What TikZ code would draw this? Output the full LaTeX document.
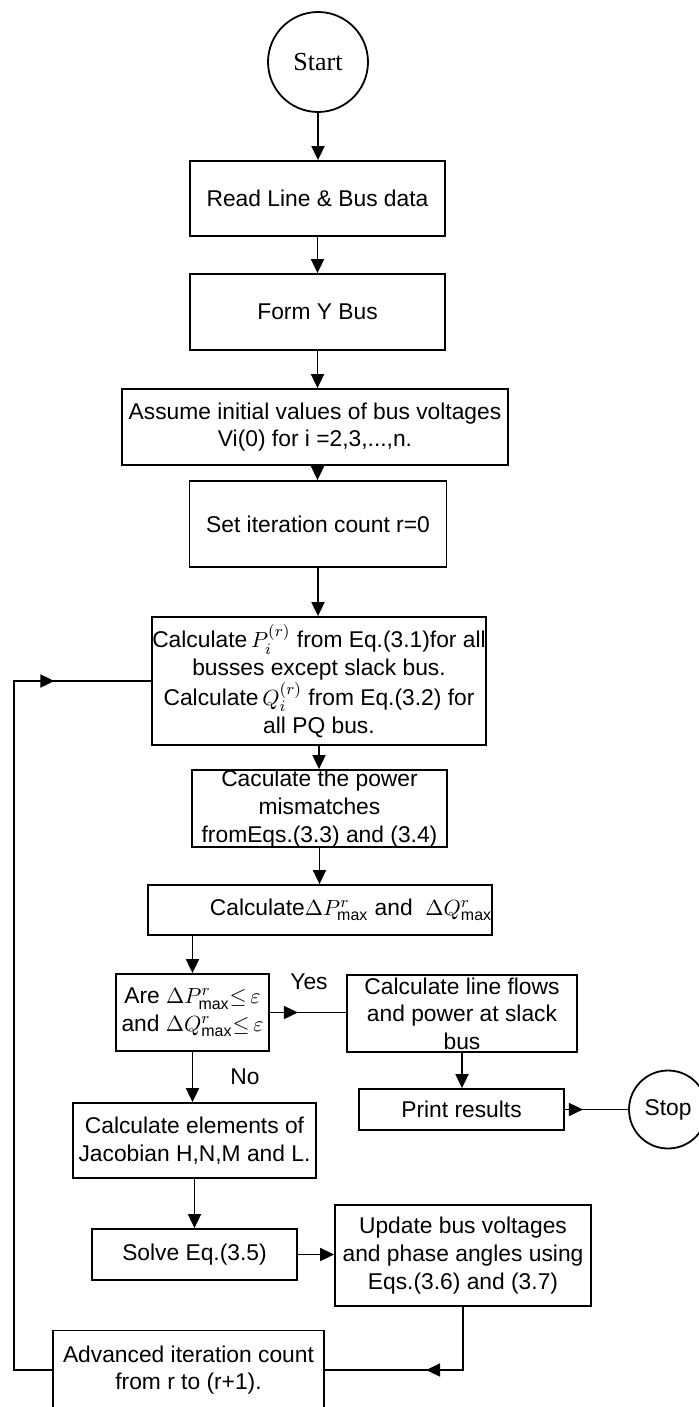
\documentclass[tikz,border=0pt]{standalone}
\usepackage{fontspec}
\setmainfont{Liberation Sans}
\newfontfamily\startfont{Liberation Serif}
\usepackage{tikz}
\usetikzlibrary{arrows.meta}
\usetikzlibrary{decorations.markings}

\newcommand{\boxfont}{\fontsize{11.4}{13.8}\selectfont}

\tikzset{
  box/.style={draw, line width=0.9pt, rectangle, inner sep=0pt, align=center, font=\boxfont},
  term/.style={draw, line width=0.9pt, circle, inner sep=0pt},
  flow/.style={line width=0.9pt, -{Triangle[length=7pt,width=6.5pt]}},
  link/.style={line width=0.9pt},
  midarrow/.style={postaction={decorate, decoration={markings,
      mark=at position #1 with {\arrow{Triangle[length=7pt,width=6.5pt]}}}}},
  tag/.style={font=\boxfont}
}

\begin{document}
\begin{tikzpicture}[x=0.5pt,y=-0.5pt]
                \useasboundingbox (0,0) rectangle (699,1407);
                % main column
                \node[term, minimum size=50pt] (start) at (318,62) {\startfont\fontsize{13}{15}\selectfont Start};
                \node[box, minimum width=127.5pt, minimum height=37.5pt] (read) at (317.5,198.5) {Read Line \& Bus data};
                \node[box, minimum width=127.5pt, minimum height=38pt] (ybus) at (317.5,312) {Form Y Bus};
                \node[box, minimum width=193pt, minimum height=38pt] (assume) at (315,427) {Assume initial values of bus voltages\\ Vi(0) for i =2,3,...,n.};
                \node[box, minimum width=128.5pt, minimum height=43pt] (setcount) at (318,524) {Set iteration count r=0};
                \node[box, minimum width=166pt, minimum height=64pt] (calcpq) at (319,681) {Calculate\,$P_i^{(r)}$ from Eq.(3.1)for all\\ busses except slack bus.\\ Calculate\,$Q_i^{(r)}$ from Eq.(3.2) for\\ all PQ bus.};
                \node[box, minimum width=127.5pt, minimum height=38.5pt] (mismatch) at (319.5,808.5) {Caculate the power\\ mismatches\\ fromEqs.(3.3) and (3.4)};
                \node[box, minimum width=171pt, minimum height=25pt] (dmax) at (320,910) {\hspace*{31pt}Calculate$\Delta P^r_{\mathrm{max}}$ and\ \ $\Delta Q^r_{\mathrm{max}}$};
                % test and its two branches
                \node[box, minimum width=76.5pt, minimum height=38.5pt] (test) at (192.5,1012.5) {Are\ $\Delta P^r_{\mathrm{max}}{\le}\,\varepsilon$\\ and $\Delta Q^r_{\mathrm{max}}{\le}\,\varepsilon$};
                \node[box, minimum width=115pt, minimum height=38.5pt] (flows) at (462,1013.5) {Calculate line flows\\ and power at slack\\ bus};
                \node[box, minimum width=102.5pt, minimum height=20.5pt] (print) at (461.5,1109.5) {Print results};
                \node[term, minimum size=39pt, font=\boxfont] (stop) at (668,1109.5) {Stop};
                \node[box, minimum width=121.5pt, minimum height=37.5pt] (jacobian) at (194.5,1140.5) {Calculate elements of\\ Jacobian H,N,M and L.};
                \node[box, minimum width=102.5pt, minimum height=25.5pt] (solve) at (194.5,1254.5) {Solve Eq.(3.5)};
                \node[box, minimum width=128pt, minimum height=50.5pt] (update) at (463,1255.5) {Update bus voltages\\ and phase angles using\\ Eqs.(3.6) and (3.7)};
                \node[box, minimum width=135.5pt, minimum height=39.5pt] (advance) at (188.5,1370) {Advanced iteration count\\ from r to (r+1).};
                \node[tag] (yes) at (309,982) {Yes};
                \node[tag] (no) at (245,1077) {No};
                \coordinate (loopcorner) at (14,1370);
                % connectors
                \draw[flow] (start.south) -- (start.south |- read.north);
                \draw[flow] (read.south) -- (read.south |- ybus.north);
                \draw[flow] (ybus.south) -- (ybus.south |- assume.north);
                \draw[flow] (assume.south -| ybus.south) -- (ybus.south |- setcount.north);
                \draw[flow] (setcount.south) -- (setcount.south |- calcpq.north);
                \draw[flow] (calcpq.south) -- (calcpq.south |- mismatch.north);
                \draw[flow] (mismatch.south) -- (mismatch.south |- dmax.north);
                \draw[flow] (test.north |- dmax.south) -- (test.north);
                \draw[link, midarrow=14pt] (test.east) -- (test.east -| flows.west);
                \draw[flow] (test.south) -- (test.south |- jacobian.north);
                \draw[flow] (flows.south) -- (flows.south |- print.north);
                \draw[link, midarrow=9pt] (print.east) -- (stop.west);
                \draw[flow] (jacobian.south -| solve.north) -- (solve.north);
                \draw[flow] (solve.east) -- (solve.east -| update.west);
                \draw[link, midarrow=50pt] (update.south) |- (advance.east);
                \draw[link, midarrow=-48.5pt] (advance.west) -- (loopcorner) |- (calcpq.west);
            \end{tikzpicture}
\end{document}
